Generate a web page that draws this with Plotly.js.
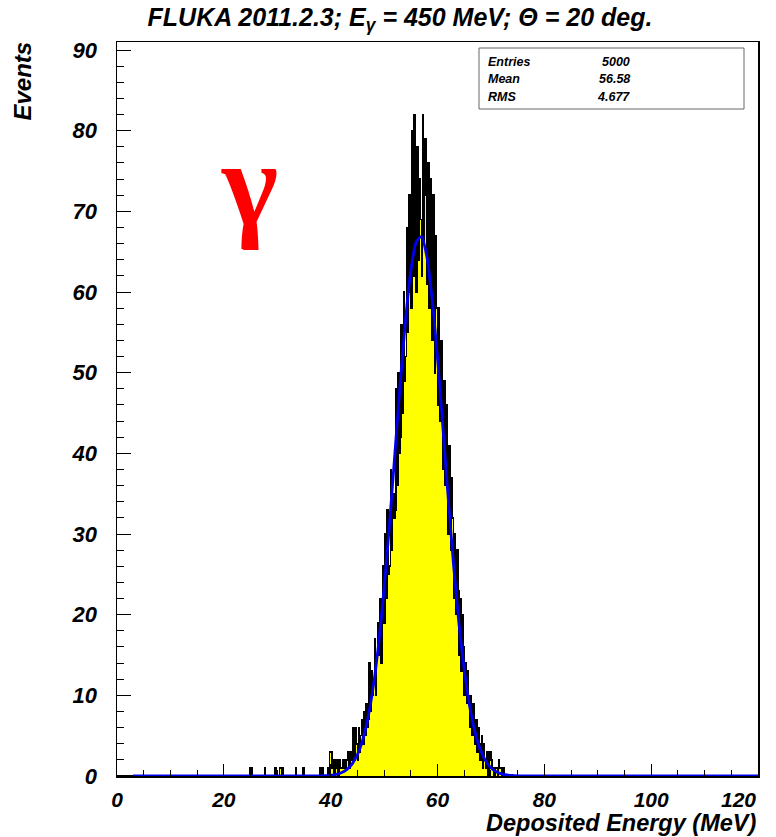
<!DOCTYPE html>
<html><head><meta charset="utf-8">
<script src="https://cdn.plot.ly/plotly-3.0.1.min.js"></script>
<style>html,body{margin:0;padding:0;background:#fff}#chart{width:776px;height:837px}</style>
</head><body><div id="chart"></div>
<script>
// ---- data ----
const binStart = 24.0;   // MeV, left edge of first listed bin
const binWidth = 0.2;    // MeV
const countsSparse = [0,0,0,0,1,0,1,0,0,0, 0,0,0,0,0,0,0,0,1,0, 0,0,0,0,0,0,0,0,1,0,
  0,0,1,1,0,1,0,0,0,0, 0,0,0,0,0,0,0,1,0,0, 0,0,0,0,1,0,0,0,0,0, 0,0,0,0,0,0,0,0,0,0];
const countsPeak = [
  1,0,1,0,0,   0,0,1,0,3,   3,1,2,0,2,   2,1,0,2,1,   1,2,1,2,1,
  2,3,1,3,2,   3,6,2,6,4,   2,6,3,5,7,   4,8,5,9,6,   7,14,8,13,10,
  12,17,10,15,19, 15,22,14,20,26, 19,30,22,33,25, 26,38,28,35,32, 33,48,36,50,40,
  42,56,45,60,49, 52,68,55,72,60, 58,80,62,82,68, 60,78,64,74,69, 62,82,66,79,72,
  61,76,58,74,66, 54,72,50,67,58, 46,58,44,54,48, 38,49,36,46,40, 30,41,28,37,32,
  22,30,20,28,23, 15,22,13,20,16, 10,14,9,13,10, 6,10,5,9,6, 4,7,3,6,4,
  2,5,1,4,2, 1,3,0,2,3, 2,1,1,0,1, 1,0,2,1,1, 0,1,0,0,0, 0];
const counts = countsSparse.concat(countsPeak);

const fitX = [3, 36,37,38,39,40,41,42,43,44,45,46,47,48,49,50,51,52,53,54,55,56,57,58,59,60,
  61,62,63,64,65,66,67,68,69,70,71,72,73,74,75,76, 120];
const fitY = [0, 0,0.01,0.02,0.04,0.09,0.2,0.41,0.79,1.48,2.64,4.48,7.25,11.2,16.5,23.2,31.1,39.8,48.5,56.4,62.6,66.2,66.9,64.4,59.1,51.8,
  43.3,34.5,26.2,19.0,13.2,8.7,5.5,3.28,1.88,1.03,0.53,0.27,0.13,0.06,0.02,0, 0];

const xTickVals = [0,20,40,60,80,100,120];
const yTickVals = [0,10,20,30,40,50,60,70,80,90];
const statsLabels = ['Entries','Mean','RMS'];
const statsValues = ['5000','56.58','4.677'];
const titleText = 'FLUKA 2011.2.3; E<sub>γ</sub> = 450 MeV; Θ = 20 deg.';

// ---- build step histogram ----
const hx = [], hy = [];
hx.push(0); hy.push(0);
for (let i = 0; i < counts.length; i++) { hx.push(binStart + i*binWidth); hy.push(counts[i]); }
hx.push(binStart + counts.length*binWidth); hy.push(0);
hx.push(120); hy.push(0);

const F = {family:'Liberation Sans, Arial, sans-serif', weight:'bold', style:'italic', color:'#000'};

const traces = [
  {x:hx, y:hy, type:'scatter', mode:'lines', line:{shape:'hv', color:'#000', width:1.6},
   fill:'tozeroy', fillcolor:'#ffff00', hoverinfo:'skip'},
  {x:fitX, y:fitY, type:'scatter', mode:'lines', line:{shape:'spline', smoothing:0.6, color:'#0000ee', width:2.8}, hoverinfo:'skip'}
];

const annots = [];
const rowsY = [61.5, 79, 96.5];
for (let i = 0; i < statsLabels.length; i++) {
  annots.push({xref:'paper', yref:'paper', x:(486-117)/641, y:1-(rowsY[i]-42)/734, xanchor:'left', yanchor:'middle',
    text:statsLabels[i], showarrow:false, font:Object.assign({}, F, {size:12.5})});
  annots.push({xref:'paper', yref:'paper', x:(632-117)/641, y:1-(rowsY[i]-42)/734, xanchor:'right', yanchor:'middle',
    text:statsValues[i], showarrow:false, font:Object.assign({}, F, {size:12.5})});
}
annots.push({xref:'paper', yref:'paper', x:(249-117)/641, y:1-(184-42)/734, xanchor:'center', yanchor:'middle',
  text:'<b>γ</b>', showarrow:false, font:{family:'Liberation Serif, serif', size:120, color:'#ff0000'}});
annots.push({xref:'paper', yref:'paper', x:(22-117)/641, y:1-(39-42)/734, xanchor:'center', yanchor:'top',
  text:'Events', textangle:-90, showarrow:false, font:Object.assign({}, F, {size:24})});
annots.push({xref:'paper', yref:'paper', x:1, y:1-(823-42)/734, xanchor:'right', yanchor:'middle',
  text:'Deposited Energy (MeV)', showarrow:false, font:Object.assign({}, F, {size:23.5})});
annots.push({xref:'x', yref:'paper', x:120, y:1-(799-42)/734, xanchor:'right', yanchor:'middle',
  text:'120', showarrow:false, font:Object.assign({}, F, {size:21})});

const layout = {
  width:776, height:837,
  margin:{l:117, r:18, t:42, b:61},
  paper_bgcolor:'#fff', plot_bgcolor:'#fff',
  showlegend:false,
  title:{text:titleText, x:400/776, xref:'container', xanchor:'center', y:1-17/837, yref:'container', yanchor:'middle',
    font:Object.assign({}, F, {size:25})},
  xaxis:{range:[0,120], tickvals:xTickVals, ticktext:xTickVals.map(v => v === 120 ? ' ' : String(v)), ticks:'inside', ticklen:12, tickwidth:1, tickcolor:'#000',
    minor:{dtick:5, tick0:0, ticks:'inside', ticklen:6, tickcolor:'#000', tickwidth:1},
    showline:true, linecolor:'#000', linewidth:1.5, mirror:true, showgrid:false, zeroline:false,
    ticklabelstandoff:4, tickfont:Object.assign({}, F, {size:21})},
  yaxis:{range:[0,91], tickvals:yTickVals, ticktext:yTickVals.map(String), ticks:'inside', ticklen:14, tickwidth:1, tickcolor:'#000',
    minor:{dtick:2, tick0:0, ticks:'inside', ticklen:7, tickcolor:'#000', tickwidth:1},
    showline:true, linecolor:'#000', linewidth:1.5, mirror:true, showgrid:false, zeroline:false,
    ticklabelstandoff:14, tickfont:Object.assign({}, F, {size:22})},
  shapes:[{type:'rect', xref:'paper', yref:'paper', x0:(479-117)/641, x1:(744-117)/641, y0:1-(109-42)/734, y1:1-(48-42)/734,
    line:{color:'#666', width:1}, fillcolor:'#fff', layer:'above'}],
  annotations:annots
};
Plotly.newPlot('chart', traces, layout, {staticPlot:true, displayModeBar:false}).then(() => {
  const lines = document.querySelectorAll('.scatterlayer .trace path.js-line');
  if (lines.length) lines[0].style.shapeRendering = 'crispEdges';
});
</script></body></html>
